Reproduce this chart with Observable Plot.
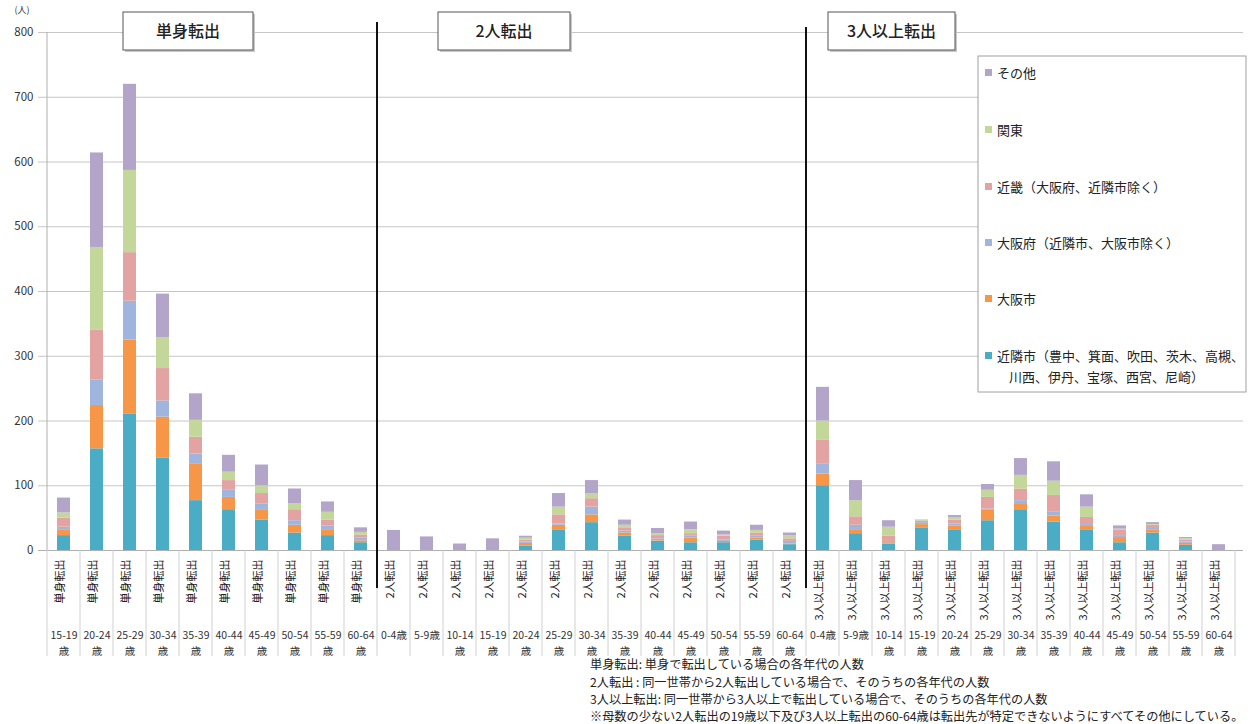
<!DOCTYPE html>
<html><head><meta charset="utf-8">
<script src="https://cdn.jsdelivr.net/npm/d3@7"></script>
<script src="https://cdn.jsdelivr.net/npm/@observablehq/plot@0.6"></script>
<style>
html,body{margin:0;padding:0;background:#fff;}
#chart{width:1250px;height:724px;overflow:hidden;}
svg{font-family:"Noto Sans CJK JP","Noto Sans",sans-serif;}
</style></head><body><div id="chart"></div>
<script>
// ---- data ----
const groups = ["単身転出", "2人転出", "3人以上転出"];
const agesTanshin = ["15-19","20-24","25-29","30-34","35-39","40-44","45-49","50-54","55-59","60-64"];
const agesAll = ["0-4","5-9","10-14","15-19","20-24","25-29","30-34","35-39","40-44","45-49","50-54","55-59","60-64"];
const seriesNames = ["近隣市（豊中、箕面、吹田、茨木、高槻、川西、伊丹、宝塚、西宮、尼崎）","大阪市","大阪府（近隣市、大阪市除く）","近畿（大阪府、近隣市除く）","関東","その他"];
const seriesColors = ["#4bacc6","#f79646","#a0b5dd","#e2a3a2","#c4d79b","#b3a5c9"];
const yTicks = [0,100,200,300,400,500,600,700,800];
// values per series, in category order: 単身(10), 2人(13), 3人以上(13)
const kinrin   = [23,157,211,143,77,63,47,27,23,12,  0,0,0,0,7,31,43,22,14,12,12,16,9,  100,26,10,35,31,46,63,44,32,12,27,8,0];
const osakashi = [9,67,114,63,57,19,16,12,8,3,       0,0,0,0,4,8,12,5,1,7,2,3,1,        18,5,2,5,7,16,8,9,5,8,5,3,0];
const osakafu  = [4,39,60,25,15,11,9,7,7,4,          0,0,0,0,2,2,12,3,3,3,2,3,4,        16,8,2,3,3,2,6,6,3,3,2,2,0];
const kinki    = [14,77,75,50,26,15,16,17,9,5,       0,0,0,0,3,14,13,4,5,4,6,5,4,       36,13,8,2,6,18,18,26,11,8,5,3,0];
const kanto    = [8,128,127,48,26,13,12,9,12,4,      0,0,0,0,3,12,8,5,3,6,2,4,5,        30,25,14,1,4,11,21,22,16,2,1,2,0];
const sonota   = [23,146,133,67,41,26,32,23,16,7,    31,21,10,18,3,21,20,8,8,12,6,8,4,  52,31,10,1,3,9,26,30,19,5,3,2,9];
const footnotes = [
  "単身転出: 単身で転出している場合の各年代の人数",
  "2人転出 : 同一世帯から2人転出している場合で、そのうちの各年代の人数",
  "3人以上転出: 同一世帯から3人以上で転出している場合で、そのうちの各年代の人数",
  "※母数の少ない2人転出の19歳以下及び3人以上転出の60-64歳は転出先が特定できないようにすべてその他にしている。"
];
const legendLabels = ["その他","関東","近畿（大阪府、近隣市除く）","大阪府（近隣市、大阪市除く）","大阪市","近隣市（豊中、箕面、吹田、茨木、高槻、\n川西、伊丹、宝塚、西宮、尼崎）"];

// ---- build tables ----
const categories = [];
agesTanshin.forEach(a => categories.push({group: groups[0], age: a}));
agesAll.forEach(a => categories.push({group: groups[1], age: a}));
agesAll.forEach(a => categories.push({group: groups[2], age: a}));
categories.forEach(c => {
  c.key = c.group + "|" + c.age;
  c.ageLabel = (c.age === "0-4" || c.age === "5-9") ? c.age + "歳" : c.age + "\n歳";
});
const seriesValues = [kinrin, osakashi, osakafu, kinki, kanto, sonota];
const rows = [];
categories.forEach((c, i) => {
  seriesNames.forEach((s, j) => rows.push({key: c.key, series: s, value: seriesValues[j][i]}));
});
const keys = categories.map(c => c.key);

const chart = Plot.plot({
  width: 1250, height: 724,
  marginLeft: 38, marginRight: 7, marginTop: 32, marginBottom: 174,
  style: {background: "#fff", fontFamily: '"Noto Sans CJK JP","Noto Sans",sans-serif'},
  x: {domain: keys, paddingInner: 0.62, paddingOuter: 0.31, axis: null},
  y: {domain: [0, 800], axis: null},
  color: {domain: seriesNames, range: seriesColors},
  marks: [
    Plot.gridY(yTicks, {stroke: "#c6c6c6", strokeOpacity: 1}),
    Plot.axisY(yTicks, {tickSize: 0, tickPadding: 5, fontSize: 11.5, fill: "#333", label: null}),
    Plot.barY(rows, {x: "key", y: "value", fill: "series"}),
    Plot.ruleY([0], {stroke: "#b0b0b0"}),
    Plot.text(categories, {x: "key", text: "group", frameAnchor: "bottom", dy: 9, rotate: -90, textAnchor: "end", fontSize: 11, fill: "#222"}),
    Plot.text(categories, {x: "key", text: "ageLabel", frameAnchor: "bottom", dy: 78, lineAnchor: "top", lineHeight: 1.45, fontSize: 10.5, fill: "#333"})
  ]
});
document.getElementById("chart").appendChild(chart);

// ---- annotations using the plot's scales ----
const xs = chart.scale("x"), ys = chart.scale("y");
const svg = d3.select(chart);
const y0 = ys.apply(0);
const centers = keys.map(k => xs.apply(k) + xs.bandwidth / 2);
const bounds = centers.map(c => c - xs.step / 2).concat([centers[centers.length - 1] + xs.step / 2]);
const ann = svg.append("g").attr("text-anchor", "start");
// y axis line
ann.append("line").attr("x1", bounds[0]).attr("x2", bounds[0]).attr("y1", ys.apply(800)).attr("y2", y0).attr("stroke", "#b0b0b0");
// category separators below axis
bounds.forEach(b => ann.append("line").attr("x1", b).attr("x2", b).attr("y1", y0).attr("y2", 656).attr("stroke", "#d0d0d0"));
// group dividers
[10, 23].forEach((i, n) => ann.append("line").attr("x1", bounds[i]).attr("x2", bounds[i]).attr("y1", n === 0 ? 22 : 27).attr("y2", 588).attr("stroke", "#111").attr("stroke-width", 2));
// unit label
ann.append("text").attr("x", 22).attr("y", 13).attr("text-anchor", "middle").attr("font-size", 9).attr("fill", "#333").text("(人)");
// group title boxes
const titleBoxes = [[123, 253], [438, 570], [828, 955]];
titleBoxes.forEach(([a, b], i) => {
  ann.append("rect").attr("x", a + 2).attr("y", 14).attr("width", b - a).attr("height", 38).attr("fill", "#c8c8c8");
  ann.append("rect").attr("x", a).attr("y", 12).attr("width", b - a).attr("height", 38).attr("fill", "#fff").attr("stroke", "#555").attr("stroke-width", 1);
  ann.append("text").attr("x", (a + b) / 2).attr("y", 31).attr("dy", "0.36em").attr("text-anchor", "middle").attr("font-size", 16).attr("font-weight", 500).attr("fill", "#222").text(groups[i]);
});
// legend
ann.append("rect").attr("x", 978).attr("y", 56).attr("width", 268).attr("height", 336).attr("fill", "#fff").attr("stroke", "#a0a0a0");
const legY = [73, 130, 187, 243, 299, 356];
legendLabels.forEach((lab, i) => {
  ann.append("rect").attr("x", 985).attr("y", legY[i] - 4).attr("width", 7).attr("height", 7).attr("fill", seriesColors[5 - i]);
  lab.split("\n").forEach((line, j) => {
    ann.append("text").attr("x", j === 0 ? 997 : 1009).attr("y", legY[i] + j * 21).attr("dy", "0.36em").attr("text-anchor", "start").attr("font-size", 13).attr("fill", "#222").text(line);
  });
});
// footnotes
footnotes.forEach((t, i) => {
  ann.append("text").attr("x", 590).attr("y", 665 + i * 17.3).attr("dy", "0.36em").attr("text-anchor", "start").attr("font-size", 12.2).attr("fill", "#222").text(t);
});
</script></body></html>
